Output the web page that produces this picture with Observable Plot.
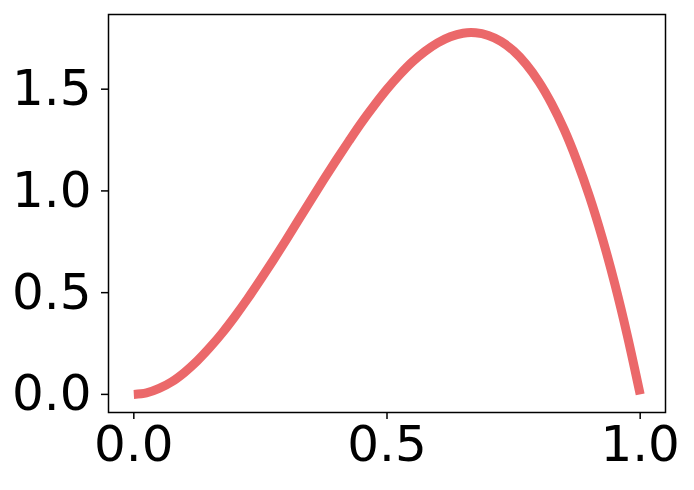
<!DOCTYPE html>
<html>
<head>
<meta charset="utf-8">
<script src="https://cdn.jsdelivr.net/npm/d3@7"></script>
<script src="https://cdn.jsdelivr.net/npm/@observablehq/plot@0.6"></script>
<style>
  html, body { margin: 0; padding: 0; background: #fff; }
  #chart { width: 694px; height: 490px; }
</style>
</head>
<body>
<div id="chart"></div>
<script>
const xs = [0, 0.025, 0.05, 0.075, 0.1, 0.125, 0.15, 0.175, 0.2, 0.225, 0.25, 0.275, 0.3, 0.325, 0.35, 0.375, 0.4, 0.425, 0.45, 0.475, 0.5,
            0.525, 0.55, 0.575, 0.6, 0.625, 0.65, 0.675, 0.7, 0.725, 0.75, 0.775, 0.8, 0.825, 0.85, 0.875, 0.9, 0.925, 0.95, 0.975, 1.0];
const ys = [0, 0.007, 0.029, 0.062, 0.108, 0.164, 0.230, 0.303, 0.384, 0.471, 0.563, 0.658, 0.756, 0.856, 0.956, 1.055, 1.152, 1.246, 1.337, 1.421, 1.500,
            1.571, 1.634, 1.686, 1.728, 1.758, 1.775, 1.777, 1.764, 1.735, 1.688, 1.622, 1.536, 1.429, 1.301, 1.148, 0.972, 0.770, 0.542, 0.285, 0];
const xTicks = [0, 0.5, 1.0];
const yTicks = [0, 0.5, 1.0, 1.5];

const data = xs.map((x, i) => ({x, y: ys[i]}));
const font = 50;

const chart = Plot.plot({
  width: 694,
  height: 490,
  marginLeft: 108,
  marginRight: 29,
  marginTop: 14,
  marginBottom: 78,
  style: {fontFamily: "DejaVu Sans", background: "#fff", color: "#000"},
  x: {domain: [-0.05, 1.05]},
  y: {domain: [-0.089, 1.867]},
  marks: [
    Plot.line(data, {x: "x", y: "y", stroke: "#eb686a", strokeWidth: 9, curve: "catmull-rom", strokeLinecap: "butt", strokeLinejoin: "round"}),
    Plot.frame({stroke: "#000", strokeWidth: 1.5}),
    Plot.axisX({ticks: xTicks, tickFormat: d3.format(".1f"), tickSize: 7, tickPadding: 6, fontSize: font, stroke: "#000", strokeWidth: 1.5, label: null}),
    Plot.axisY({ticks: yTicks, tickFormat: d3.format(".1f"), tickSize: 7, tickPadding: 10, fontSize: font, stroke: "#000", strokeWidth: 1.5, label: null})
  ]
});
document.getElementById("chart").appendChild(chart);
</script>
</body>
</html>
